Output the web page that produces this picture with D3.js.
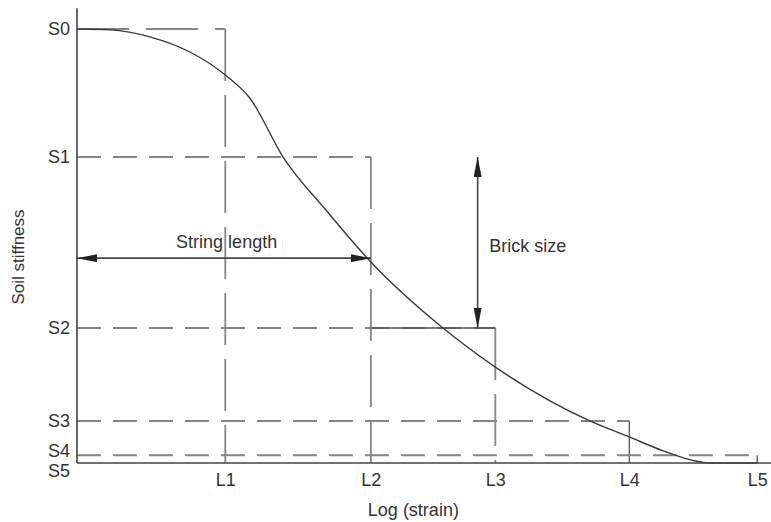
<!DOCTYPE html>
<html>
<head>
<meta charset="utf-8">
<script src="https://cdn.jsdelivr.net/npm/d3@7"></script>
<style>
  html, body { margin: 0; padding: 0; background: #fff; }
  svg { display: block; }
  text { font-family: "Liberation Sans", Arial, sans-serif; fill: #333; }
</style>
</head>
<body>
<svg id="chart" width="771" height="522"></svg>
<script>
// ---- data ----
const strainLabels = ["L1", "L2", "L3", "L4", "L5"];
const strainValues = [21.8, 43.2, 61.5, 81.2, 100];
const stiffLabels = ["S0", "S1", "S2", "S3", "S4", "S5"];
const stiffValues = [100, 70.5, 31.1, 9.7, 1.8, 0];

// degradation curve (strain position, stiffness)
const curveStrain = [0, 4.9, 10.7, 16.6, 21.8, 25.4, 30.3, 36.8, 43.2, 53.8, 61.5, 75.4, 81.2, 86.0, 90.5, 93.0, 100];
const curveStiff  = [100, 99.8, 98.2, 94.7, 89.4, 84.1, 70.5, 57.9, 46.3, 31.1, 22.1, 9.7, 6.0, 2.9, 0.6, 0.0, 0];

// annotations
const stringArrow = { from: 0, to: 43.2, level: 47.2, label: "String length", labelX: 22, labelY: 49.5 };
const brickArrow  = { at: 58.9, from: 70.5, to: 31.1, label: "Brick size", labelX: 60.6, labelY: 48.6 };
const xTitle = "Log (strain)";
const yTitle = "Soil stiffness";

// ---- layout ----
const svg = d3.select("#chart");
const x = d3.scaleLinear().domain([0, 101]).range([77, 764]);
const y = d3.scaleLinear().domain([0, 100]).range([463, 29]);

const dashGray = "#858585";
const solidGray = "#555";

// arrow marker
const defs = svg.append("defs");
defs.append("marker")
  .attr("id", "arrow")
  .attr("viewBox", "0 0 20 8")
  .attr("refX", 20).attr("refY", 4)
  .attr("markerUnits", "userSpaceOnUse")
  .attr("markerWidth", 20).attr("markerHeight", 8)
  .attr("orient", "auto-start-reverse")
  .append("path").attr("d", "M0,0 L20,4 L0,8 Z").attr("fill", "#222");

const g = svg.append("g");

// brick lines: horizontal at each stiffness level to next strain, verticals down to 0
const bricks = g.append("g");
for (let i = 0; i < strainValues.length; i++) {
  bricks.append("line")
    .attr("x1", x(0)).attr("x2", x(strainValues[i]))
    .attr("y1", y(stiffValues[i])).attr("y2", y(stiffValues[i]))
    .attr("stroke", dashGray).attr("stroke-width", 2)
    .attr("stroke-dasharray", i === 0 ? "52,17" : "24,12");
  bricks.append("line")
    .attr("x1", x(strainValues[i])).attr("x2", x(strainValues[i]))
    .attr("y1", y(stiffValues[i])).attr("y2", y(0))
    .attr("stroke", i >= 3 ? solidGray : dashGray).attr("stroke-width", i >= 3 ? 1.3 : 1.8)
    .attr("stroke-dasharray", i >= 3 ? null : "52,14");
}
// solid brick step: S2 between L2 and L3
bricks.append("line")
  .attr("x1", x(strainValues[1])).attr("x2", x(strainValues[2]))
  .attr("y1", y(stiffValues[2])).attr("y2", y(stiffValues[2]))
  .attr("stroke", solidGray).attr("stroke-width", 1.5);

// curve
const line = d3.line()
  .x((d, i) => x(curveStrain[i]))
  .y((d, i) => y(curveStiff[i]))
  .curve(d3.curveMonotoneX);
g.append("path")
  .datum(curveStrain)
  .attr("d", line)
  .attr("fill", "none")
  .attr("stroke", "#3a3a3a")
  .attr("stroke-width", 1.4);

// axes
const xAxis = d3.axisBottom(x).tickValues(strainValues).tickFormat((d, i) => strainLabels[i]).tickSize(0).tickPadding(10);
const yAxis = d3.axisLeft(y).tickValues(stiffValues).tickFormat((d, i) => stiffLabels[i]).tickSize(0).tickPadding(7);

const gx = svg.append("g").attr("transform", `translate(0,${y(0)})`).call(xAxis);
gx.select(".domain").remove();
gx.selectAll("text").attr("font-size", 18).attr("fill", "#333").attr("font-family", "Liberation Sans, Arial, sans-serif");

const gy = svg.append("g").attr("transform", `translate(${x(0)},0)`).call(yAxis);
gy.select(".domain").remove();
gy.selectAll("text").attr("font-size", 18).attr("fill", "#333").attr("font-family", "Liberation Sans, Arial, sans-serif")
  .attr("dy", (d, i) => stiffLabels[i] === "S4" ? "0.05em" : stiffLabels[i] === "S5" ? "0.75em" : "0.32em");

// axis lines
svg.append("line").attr("x1", x(0)).attr("x2", 771).attr("y1", y(0)).attr("y2", y(0))
  .attr("stroke", "#444").attr("stroke-width", 1.6);
svg.append("line").attr("x1", x(0)).attr("x2", x(0)).attr("y1", y(104.8)).attr("y2", y(0))
  .attr("stroke", "#444").attr("stroke-width", 1.6);

// string length arrow
svg.append("line")
  .attr("x1", x(stringArrow.from)).attr("x2", x(stringArrow.to))
  .attr("y1", y(stringArrow.level)).attr("y2", y(stringArrow.level))
  .attr("stroke", "#444").attr("stroke-width", 1.6)
  .attr("marker-start", "url(#arrow)").attr("marker-end", "url(#arrow)");
svg.append("text").attr("x", x(stringArrow.labelX)).attr("y", y(stringArrow.labelY))
  .attr("text-anchor", "middle").attr("font-size", 18).text(stringArrow.label);

// brick size arrow
svg.append("line")
  .attr("x1", x(brickArrow.at)).attr("x2", x(brickArrow.at))
  .attr("y1", y(brickArrow.from)).attr("y2", y(brickArrow.to))
  .attr("stroke", "#444").attr("stroke-width", 1.6)
  .attr("marker-start", "url(#arrow)").attr("marker-end", "url(#arrow)");
svg.append("text").attr("x", x(brickArrow.labelX)).attr("y", y(brickArrow.labelY))
  .attr("font-size", 18).text(brickArrow.label);

// axis titles
svg.append("text").attr("x", x(43.2)).attr("y", 516)
  .attr("font-size", 18).attr("text-anchor", "start").attr("dx", -3).text(xTitle);
svg.append("text").attr("transform", `translate(24,${257}) rotate(-90)`)
  .attr("text-anchor", "middle").attr("font-size", 17).text(yTitle);
</script>
</body>
</html>
